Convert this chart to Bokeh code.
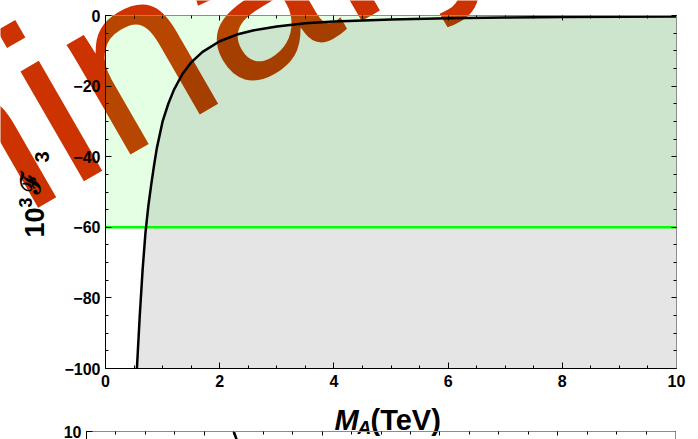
import math
from bokeh.plotting import figure
from bokeh.models import Range1d, LinearAxis, FixedTicker, Label
from bokeh.layouts import column
from bokeh.embed import file_html
from bokeh.resources import INLINE

# ---------------- data ----------------
m_a_tev = [0.55, 0.60, 0.65, 0.70, 0.75, 0.80, 0.85, 0.90, 1.00, 1.10, 1.20,
           1.35, 1.50, 1.70, 2.00, 2.30, 2.60, 3.00, 3.50, 4.00, 5.00, 6.00,
           7.00, 8.00, 9.00, 10.00]
f3_times_1e3 = [-100.0, -85.0, -72.0, -61.5, -54.0, -48.0, -42.5, -37.5, -30.0,
                -25.0, -21.0, -16.5, -13.3, -10.3, -7.3, -5.4, -4.2, -3.1, -2.2,
                -1.7, -1.15, -0.8, -0.6, -0.45, -0.37, -0.3]
bound_x = [0.0, 10.0]
bound_level = [-60.0, -60.0]
allowed_top = [0.0, 0.0]

x_range_vals = [0.0, 10.0]
y_range_vals = [-100.0, 0.0]
x_major = [0, 2, 4, 6, 8, 10]
x_minor = [0.5 * i for i in range(21)]
y_major = [-100, -80, -60, -40, -20, 0]
y_labels = ["\u2212100", "\u221280", "\u221260", "\u221240", "\u221220", "0"]
y_minor = [-100 + 5 * i for i in range(21)]

# second (lower) panel: only its top sliver is visible
panel2_x = [2.46, 2.50, 2.53, 2.56]
panel2_y = [10.35, 10.0, 9.75, 9.5]
panel2_y_range = [9.6, 10.0]
panel2_y_major = [10]

FONT = "Liberation Sans"
W, H = 698, 439


def tick_style(ax, major_in=6, minor_in=3, line_color="black"):
    ax.major_tick_in = major_in
    ax.major_tick_out = 0
    ax.minor_tick_in = minor_in
    ax.minor_tick_out = 0
    ax.major_tick_line_color = "black"
    ax.minor_tick_line_color = "black"
    ax.axis_line_color = line_color
    ax.major_label_text_font = FONT
    ax.major_label_text_font_style = "bold"
    ax.major_label_text_font_size = "16px"
    ax.major_label_text_color = "black"


def mirror_axes(p, side, major_ticks, minor_ticks, major_len, minor_len):
    # tick-only frame edges (no labels): one axis for long ticks, one for short
    for ticks, ln in ((major_ticks, major_len), (minor_ticks, minor_len)):
        ax = LinearAxis(ticker=FixedTicker(ticks=[], minor_ticks=ticks))
        tick_style(ax, 0, ln, "#8c8c8c")
        ax.major_label_standoff = 0
        ax.axis_label_standoff = 0
        p.add_layout(ax, side)


def text_label(p, x, y, text, size, style="bold", angle=0.0, font=FONT,
               color="black"):
    p.add_layout(Label(x=x, y=y, text=text, text_font=font,
                       text_font_style=style, text_font_size=size,
                       text_color=color, text_align="left",
                       text_baseline="alphabetic", angle=angle))


# ---------------- background canvas: watermark + titles ----------------
p0 = figure(width=W, height=H, x_range=Range1d(0, W), y_range=Range1d(H, 0),
            x_axis_type=None, y_axis_type=None,
            output_backend="svg", toolbar_location=None,
            min_border_left=0, min_border_right=0,
            min_border_top=0, min_border_bottom=0)
p0.frame_align = False
p0.outline_line_color = None
p0.background_fill_color = "white"
p0.border_fill_color = "white"

text_label(p0, -561, 457, "Preliminary", "240px", style="normal",
           angle=math.radians(30), color="#cc3300")

# y title: 10^3 F_3 (rotated)
text_label(p0, 33.5, 237, "10", "27px", angle=math.pi / 2)
text_label(p0, 25, 207, "3", "18px", angle=math.pi / 2)
text_label(p0, 30, 193, "\u2131", "27px", angle=math.pi / 2)
text_label(p0, 41.5, 162, "3", "20px", angle=math.pi / 2)

# x title: M_A(TeV)
text_label(p0, 334, 419, "M", "29px", style="bold italic")
text_label(p0, 357, 426.5, "A", "19px", style="bold italic")
text_label(p0, 370, 419, "(TeV)", "29px")

# ---------------- top panel ----------------
p1 = figure(width=W, height=H,
            x_range=Range1d(*x_range_vals), y_range=Range1d(*y_range_vals),
            x_axis_type=None, y_axis_type=None,
            output_backend="svg", toolbar_location=None,
            min_border_left=105, min_border_right=22,
            min_border_top=15, min_border_bottom=71)
p1.frame_align = False
p1.outline_line_color = None
p1.background_fill_color = None
p1.border_fill_color = None
p1.styles = {"margin-top": "-%dpx" % H}

ax_b = LinearAxis(ticker=FixedTicker(ticks=x_major, minor_ticks=x_minor))
tick_style(ax_b)
ax_b.major_label_standoff = 6
p1.add_layout(ax_b, "below")

ax_l = LinearAxis(ticker=FixedTicker(ticks=y_major, minor_ticks=y_minor),
                  major_label_overrides=dict(zip(y_major, y_labels)))
tick_style(ax_l)
ax_l.major_label_standoff = 5
p1.add_layout(ax_l, "left")

mirror_axes(p1, "above", x_major, x_minor, 5, 3)
mirror_axes(p1, "right", y_major, y_minor, 5, 3)

p1.varea(x=bound_x, y1=bound_level, y2=allowed_top,
         fill_color="#00ff00", fill_alpha=0.1)
p1.varea(x=m_a_tev, y1=[y_range_vals[0]] * len(m_a_tev), y2=f3_times_1e3,
         fill_color="black", fill_alpha=0.1)
p1.line(x=bound_x, y=bound_level, line_color="#00ff00", line_width=2.5)
p1.line(x=m_a_tev, y=f3_times_1e3, line_color="black", line_width=2.5)

# ---------------- lower panel (top sliver) ----------------
p2 = figure(width=W, height=19,
            x_range=Range1d(*x_range_vals), y_range=Range1d(*panel2_y_range),
            x_axis_type=None, y_axis_type=None,
            output_backend="svg", toolbar_location=None,
            min_border_left=86, min_border_right=23,
            min_border_top=11, min_border_bottom=0)
p2.frame_align = False
p2.outline_line_color = None
p2.background_fill_color = None
p2.border_fill_color = None
p2.styles = {"margin-top": "-19px"}

ax2_l = LinearAxis(ticker=FixedTicker(ticks=panel2_y_major))
tick_style(ax2_l)
ax2_l.major_label_standoff = 5
p2.add_layout(ax2_l, "left")

mirror_axes(p2, "above", x_major, x_minor, 4, 3)
ax2_r = LinearAxis(ticker=FixedTicker(ticks=[], minor_ticks=[]))
tick_style(ax2_r, 0, 0, "#8c8c8c")
ax2_r.major_label_standoff = 0
p2.add_layout(ax2_r, "right")

p2.line(x=panel2_x, y=panel2_y, line_color="black", line_width=2.5)

layout = column(p0, p1, p2)
open("out.html", "w").write(file_html(layout, INLINE))
